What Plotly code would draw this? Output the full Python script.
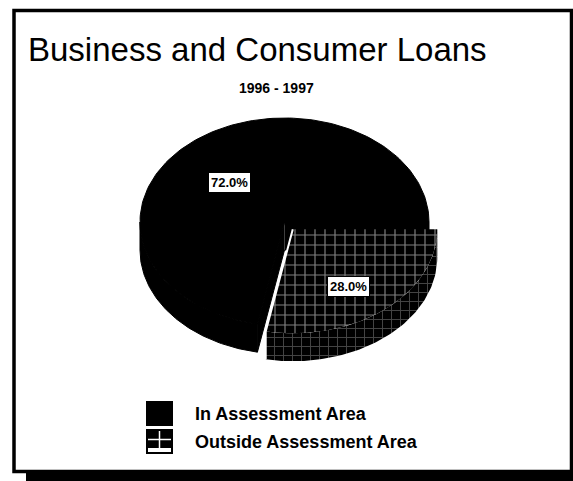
import numpy as np
import plotly.graph_objects as go

# ---- data -------------------------------------------------------------
categories = ["In Assessment Area", "Outside Assessment Area"]
shares = [72.0, 28.0]
pulled_out = [False, True]

title_text = "Business and Consumer Loans"
subtitle_text = "1996 - 1997"

# ---- page / pie geometry (pixel units, y grows downward) -------------
W, H = 573, 481
CX, CY = 284.5, 222.0      # centre of the top face
RX, RY = 144.5, 104.0      # radii of the tilted (elliptical) top face
DEPTH = 28.0               # thickness of the disc
PULL = 13.0                # explode distance of pulled slices
LABEL_FRAC = 0.6           # label distance from the apex, as a share of the radius
LABEL_DROP = 9.0           # labels sit a little lower to account for the tilt
FONT = "Liberation Sans"

top_pattern = dict(shape="+", size=10, solidity=0.22, fgcolor="white", bgcolor="black")
side_pattern = dict(shape="+", size=9, solidity=0.2, fgcolor="#8c8c8c", bgcolor="black")


def ellipse_pts(t_deg, dx=0.0, dy=0.0, drop=0.0):
    t = np.radians(t_deg)
    return CX + dx + RX * np.cos(t), CY + dy + RY * np.sin(t) + drop


def poly_trace(xs, ys, pattern=None, line_color="black", line_width=1):
    kw = dict(
        x=list(xs), y=list(ys), mode="lines", fill="toself",
        fillcolor="black", line=dict(color=line_color, width=line_width),
        hoverinfo="skip", showlegend=False,
    )
    if pattern is not None:
        kw["fillpattern"] = pattern
    return go.Scatter(**kw)


fig = go.Figure()

total = sum(shares)
start = 0.0
slices = []
for name, value, pulled in zip(categories, shares, pulled_out):
    span = -value / total * 360.0          # slices run counter-clockwise on screen
    t0, t1 = start, start + span
    mid = (t0 + t1) / 2.0
    if pulled:
        dx = PULL * np.cos(np.radians(mid))
        dy = PULL * np.sin(np.radians(mid)) * RY / RX
    else:
        dx = dy = 0.0
    slices.append(dict(name=name, value=value, lo=min(t0, t1), hi=max(t0, t1),
                       mid=mid, dx=dx, dy=dy, pulled=pulled))
    start = t1

# draw the static slice first, pulled slices afterwards (they sit in front)
for s in sorted(slices, key=lambda s: s["pulled"]):
    pat_top = top_pattern if s["pulled"] else None
    pat_side = side_pattern if s["pulled"] else None
    edge_w = 0 if s["pulled"] else 1
    ax, ay = CX + s["dx"], CY + s["dy"]     # apex of the slice

    # front-facing part of the rim wall
    for k in range(-2, 3):
        a, b = max(s["lo"], 360 * k), min(s["hi"], 360 * k + 180)
        if a < b:
            ts = np.linspace(a, b, 80)
            xt, yt = ellipse_pts(ts, s["dx"], s["dy"])
            xb, yb = ellipse_pts(ts[::-1], s["dx"], s["dy"], DEPTH)
            fig.add_trace(poly_trace(np.r_[xt, xb], np.r_[yt, yb], pat_side,
                                     line_width=edge_w))

    # cut faces that turn toward the viewer
    for edge, visible in ((s["lo"], np.cos(np.radians(s["lo"])) < 0),
                          (s["hi"], np.cos(np.radians(s["hi"])) > 0)):
        if visible and not s["pulled"]:
            ex, ey = ellipse_pts(edge, s["dx"], s["dy"])
            fig.add_trace(poly_trace([ax, ex, ex, ax],
                                     [ay, ey, ey + DEPTH, ay + DEPTH]))

    # top face
    ts = np.linspace(s["lo"], s["hi"], 160)
    xa, ya = ellipse_pts(ts, s["dx"], s["dy"])
    fig.add_trace(poly_trace(np.r_[ax, xa, ax], np.r_[ay, ya, ay], pat_top,
                             line_width=edge_w))

    # light edge where a pulled slice breaks away from the rest
    if s["pulled"]:
        ex, ey = ellipse_pts(s["hi"], s["dx"], s["dy"])
        fig.add_trace(go.Scatter(x=[ax, ex, ex], y=[ay, ey, ey + DEPTH], mode="lines",
                                 line=dict(color="white", width=2),
                                 hoverinfo="skip", showlegend=False))

    # percentage label on the slice
    lx, ly = ellipse_pts(s["mid"], s["dx"], s["dy"])
    fig.add_annotation(
        x=ax + (lx - ax) * LABEL_FRAC,
        y=ay + (ly - ay) * LABEL_FRAC + LABEL_DROP,
        text=f"<b>{s['value']:.1f}%</b>", showarrow=False,
        font=dict(family=FONT, size=13, color="black"),
        bgcolor="white", bordercolor="black", borderwidth=1, borderpad=2,
    )

# ---- frame with drop shadow ------------------------------------------
fig.add_shape(type="rect", xref="x", yref="y", x0=26, y0=471, x1=600, y1=500,
              fillcolor="black", line=dict(width=0), layer="below")
fig.add_shape(type="rect", xref="x", yref="y", x0=14, y0=10.5, x1=571.5, y1=471.5,
              fillcolor="rgba(0,0,0,0)", line=dict(color="black", width=3.5))

# ---- legend ------------------------------------------------------------
LEG_X0, LEG_X1 = 146, 173
legend_rows = [(401, 426), (429, 454)]
fig.add_shape(type="rect", x0=LEG_X0, x1=LEG_X1, y0=legend_rows[0][0], y1=legend_rows[0][1],
              fillcolor="black", line=dict(width=0))
r0, r1 = legend_rows[1]
fig.add_shape(type="rect", x0=LEG_X0, x1=LEG_X1, y0=r0, y1=r1,
              fillcolor="black", line=dict(width=0))
fig.add_shape(type="line", x0=(LEG_X0 + LEG_X1) / 2, x1=(LEG_X0 + LEG_X1) / 2,
              y0=r0 + 2, y1=r1 - 6, line=dict(color="white", width=1.5))
fig.add_shape(type="line", x0=LEG_X0 + 2, x1=LEG_X1 - 2, y0=(r0 + r1) / 2 - 2,
              y1=(r0 + r1) / 2 - 2, line=dict(color="white", width=1.5))
fig.add_shape(type="rect", x0=LEG_X0 + 2, x1=LEG_X1 - 2, y0=r1 - 6, y1=r1 - 2,
              fillcolor="white", line=dict(width=0))
for name, (a, b) in zip(categories, legend_rows):
    fig.add_annotation(x=193, y=(a + b) / 2, text=f"<b>{name}</b>", showarrow=False,
                       xanchor="left", yanchor="middle",
                       font=dict(family=FONT, size=18, color="black"))

# ---- titles --------------------------------------------------------------
fig.add_annotation(x=257.5, y=49, text=title_text, showarrow=False,
                   xanchor="center", yanchor="middle",
                   font=dict(family=FONT, size=33, color="black"))
fig.add_annotation(x=276, y=88, text=f"<b>{subtitle_text}</b>", showarrow=False,
                   xanchor="center", yanchor="middle",
                   font=dict(family=FONT, size=14, color="black"))

fig.update_layout(
    width=W, height=H, autosize=False,
    margin=dict(l=0, r=0, t=0, b=0),
    paper_bgcolor="white", plot_bgcolor="white",
    showlegend=False,
    xaxis=dict(range=[0, W], visible=False, fixedrange=True),
    yaxis=dict(range=[H, 0], visible=False, fixedrange=True),
)

fig.write_html("out.html")
